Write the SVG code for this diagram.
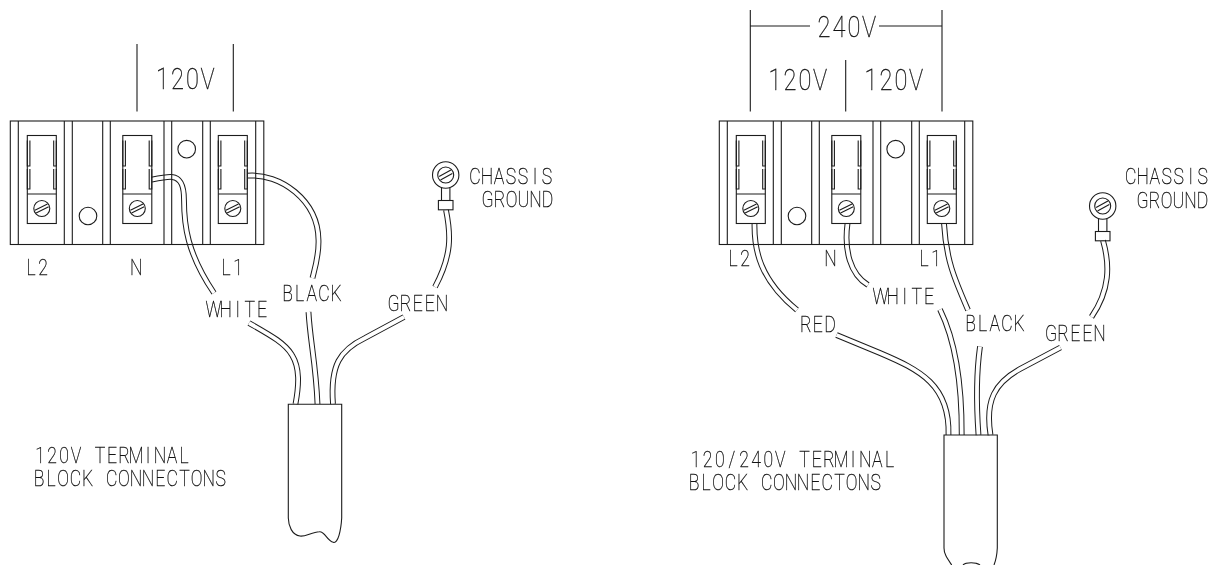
<svg xmlns="http://www.w3.org/2000/svg" xmlns:xlink="http://www.w3.org/1999/xlink" width="1216" height="565" viewBox="0 0 1216 565">
<style>
.s{fill:none;stroke:#1c1c1c;stroke-width:1.1}
.wo{fill:none;stroke:#1c1c1c;stroke-width:5.8}
.wi{fill:none;stroke:#fff;stroke-width:3.8}
#labels{opacity:.99}
text{font-family:Roboto,"Liberation Sans",sans-serif;font-weight:100;fill:#111;stroke:#111;stroke-width:.35;text-anchor:middle}
.t{font-size:22px}
.b{font-size:29.5px}
</style>
<defs>
<g id="term">
<rect class="s" x="0" y="0" width="29" height="88"/>
<path class="s" d="M0 58.5H29M0 5V30.5H2.6V5M0 33.5V53.5H2.6V33.5M29 5V30.5H26.4V5M29 33.5V53.5H26.4V33.5"/>
<circle class="s" cx="14.5" cy="73" r="8"/>
<path class="s" d="M7.6 74.7L20.2 68.4M8.8 77.5L21.4 71.2"/>
</g>
<g id="block">
<rect class="s" x="0" y="121" width="253.5" height="123.5"/>
<path class="s" d="M8 121V244.5M54 121V244.5M62 121V244.5M92.4 121V244.5M100 121V244.5M153.7 121V244.5M161.4 121V244.5M192.4 121V244.5M200 121V244.5M245.4 121V244.5"/>
<circle class="s" cx="77.7" cy="216" r="8.8"/>
<circle class="s" cx="176.4" cy="149.2" r="8.8"/>
<use xlink:href="#term" href="#term" x="17" y="135.5"/>
<use xlink:href="#term" href="#term" x="112.5" y="135.5"/>
<use xlink:href="#term" href="#term" x="208" y="135.5"/>
</g>
<g id="ring">
<circle class="s" cx="0" cy="0" r="13.2"/>
<circle class="s" cx="0" cy="0" r="8"/>
<path class="s" d="M-6.6 1.6L5.2-5M-5.2 5L6.6-1.6"/>
<path class="s" d="M-4.2 13V25M4.2 13V25"/>
<rect class="s" x="-7.3" y="25.5" width="14.6" height="9.3"/>
</g>
</defs>

<g id="connectors">
<path class="wo" d="M151.7 179.7C160 178 168 176.5 172 177C182 178 184 188 184 200C184 225 187 253 214 293"/>
<path class="wi" d="M151.7 179.7C160 178 168 176.5 172 177C182 178 184 188 184 200C184 225 187 253 214 293"/>
<path class="wo" d="M249 323C270 335 285 343 292 355C300 368 299 385 295.5 404"/>
<path class="wi" d="M249 323C270 335 285 343 292 355C300 368 299 385 295.5 404"/>
<path class="wo" d="M247.5 175.7C280 173 318 200 318.5 240C319 255 315 268 312.5 278"/>
<path class="wi" d="M247.5 175.7C280 173 318 200 318.5 240C319 255 315 268 312.5 278"/>
<path class="wo" d="M308.5 312C310 340 316 365 317.5 404"/>
<path class="wi" d="M308.5 312C310 340 316 365 317.5 404"/>
<path class="wo" d="M446 210C451 235 452 255 435 287"/>
<path class="wi" d="M446 210C451 235 452 255 435 287"/>
<path class="wo" d="M404 317L365 338C340 350 330 365 333 404"/>
<path class="wi" d="M404 317L365 338C340 350 330 365 333 404"/>
<path class="wo" d="M754.5 223.5C754 250 760 280 797 310"/>
<path class="wi" d="M754.5 223.5C754 250 760 280 797 310"/>
<path class="wo" d="M836.5 335L880 353C920 370 950 385 948.5 435"/>
<path class="wi" d="M836.5 335L880 353C920 370 950 385 948.5 435"/>
<path class="wo" d="M847.5 223.5C844 250 850 274 868 285"/>
<path class="wi" d="M847.5 223.5C844 250 850 274 868 285"/>
<path class="wo" d="M940 309.5C955 340 962 380 961.7 435"/>
<path class="wi" d="M940 309.5C955 340 962 380 961.7 435"/>
<path class="wo" d="M944 223.5C946 260 955 280 968 310"/>
<path class="wi" d="M944 223.5C946 260 955 280 968 310"/>
<path class="wo" d="M980 346.5C976 375 976 400 978.5 435"/>
<path class="wi" d="M980 346.5C976 375 976 400 978.5 435"/>
<path class="wo" d="M1060.5 347.5L1020 369C995 383 985 400 990.5 435"/>
<path class="wi" d="M1060.5 347.5L1020 369C995 383 985 400 990.5 435"/>
<path class="wo" d="M1103 240.5C1110 265 1110 290 1091.5 317"/>
<path class="wi" d="M1103 240.5C1110 265 1110 290 1091.5 317"/>
</g>

<g id="block-120v" transform="translate(10.3 0)"><use xlink:href="#block" href="#block"/></g>
<g id="block-240v" transform="translate(719.3 0)"><use xlink:href="#block" href="#block"/></g>
<g id="ground-left" transform="translate(445.7 175)"><use xlink:href="#ring" href="#ring"/></g>
<g id="ground-right" transform="translate(1102.7 206)"><use xlink:href="#ring" href="#ring"/></g>

<g id="cable-left"><path class="s" d="M288.3 518V404.3H341.7V518C341 530 338 544 333.3 542.3C327 541 325 531 319.3 531.7C312 532 305 537 300 536C292 535 288.5 526 288.3 518Z"/></g>
<g id="cable-right"><path class="s" d="M951.7 565C947 558 944 554 944 548V435H997.3V548C997 554 996 560 994 565M963 565C966 562 976 562 980 565"/></g>

<g id="dimensions">
<path class="s" d="M137 44V111.5M233.3 44V111.5M750.3 10V111.5M942 10V111.5M845.7 60V111.5M750.3 26H810M879 26H942"/>
</g>

<g id="labels">
<text class="b" transform="translate(162.5 89.3) scale(.8 1)" x="0 18.75 37.5 56.25" y="0">120V</text>
<text class="b" transform="translate(775 90) scale(.8 1)" x="0 18.75 37.5 56.25" y="0">120V</text>
<text class="b" transform="translate(871 90) scale(.8 1)" x="0 18.75 37.5 56.25" y="0">120V</text>
<text class="b" transform="translate(824 37) scale(.8 1)" x="0 18.75 37.5 56.25" y="0">240V</text>
<text class="t" transform="translate(31 275) scale(.8 1)" x="0 15.15" y="0">L2</text>
<text class="t" transform="translate(136.3 275) scale(.8 1)" x="0" y="0">N</text>
<text class="t" transform="translate(226 275) scale(.8 1)" x="0 15.15" y="0">L1</text>
<text class="t" transform="translate(733 266) scale(.8 1)" x="0 15.15" y="0">L2</text>
<text class="t" transform="translate(830.5 266) scale(.8 1)" x="0" y="0">N</text>
<text class="t" transform="translate(924 266) scale(.8 1)" x="0 15.15" y="0">L1</text>
<text class="t" transform="translate(213.5 316.7) scale(.8 1)" x="0 15.15 30.3 45.45 60.6" y="0">WHITE</text>
<text class="t" transform="translate(287.5 301) scale(.8 1)" x="0 15.15 30.3 45.45 60.6" y="0">BLACK</text>
<text class="t" transform="translate(393.5 311) scale(.8 1)" x="0 15.15 30.3 45.45 60.6" y="0">GREEN</text>
<text class="t" transform="translate(880.5 304.3) scale(.8 1)" x="0 15.15 30.3 45.45 60.6" y="0">WHITE</text>
<text class="t" transform="translate(805.7 332) scale(.8 1)" x="0 15.15 30.3" y="0">RED</text>
<text class="t" transform="translate(970.5 331.3) scale(.8 1)" x="0 15.15 30.3 45.45 60.6" y="0">BLACK</text>
<text class="t" transform="translate(1051 341) scale(.8 1)" x="0 15.15 30.3 45.45 60.6" y="0">GREEN</text>
<text class="t" transform="translate(475 184.3) scale(.8 1)" x="0 15 30 45 60 75 90" y="0">CHASSIS</text>
<text class="t" transform="translate(487.5 206.7) scale(.8 1)" x="0 15 30 45 60 75" y="0">GROUND</text>
<text class="t" transform="translate(1130.7 184) scale(.8 1)" x="0 15 30 45 60 75 90" y="0">CHASSIS</text>
<text class="t" transform="translate(1142.5 207.5) scale(.8 1)" x="0 15 30 45 60 75" y="0">GROUND</text>
<text class="t" transform="translate(40 463.3) scale(.8 1)" x="0 15 30 45 60 75 90 105 120 135 150 165 180" y="0">120V TERMINAL</text>
<text class="t" transform="translate(39 486) scale(.8 1)" x="0 15.15 30.3 45.45 60.6 75.75 90.9 106.05 121.2 136.35 151.5 166.65 181.8 196.95 212.1 227.25" y="0">BLOCK CONNECTONS</text>
<text class="t" transform="translate(695.5 466.7) scale(.8 1)" x="0 15.15 30.3 45.45 60.6 75.75 90.9 106.05 121.2 136.35 151.5 166.65 181.8 196.95 212.1 227.25 242.4" y="0">120/240V TERMINAL</text>
<text class="t" transform="translate(694 490) scale(.8 1)" x="0 15.15 30.3 45.45 60.6 75.75 90.9 106.05 121.2 136.35 151.5 166.65 181.8 196.95 212.1 227.25" y="0">BLOCK CONNECTONS</text>
</g>
</svg>
